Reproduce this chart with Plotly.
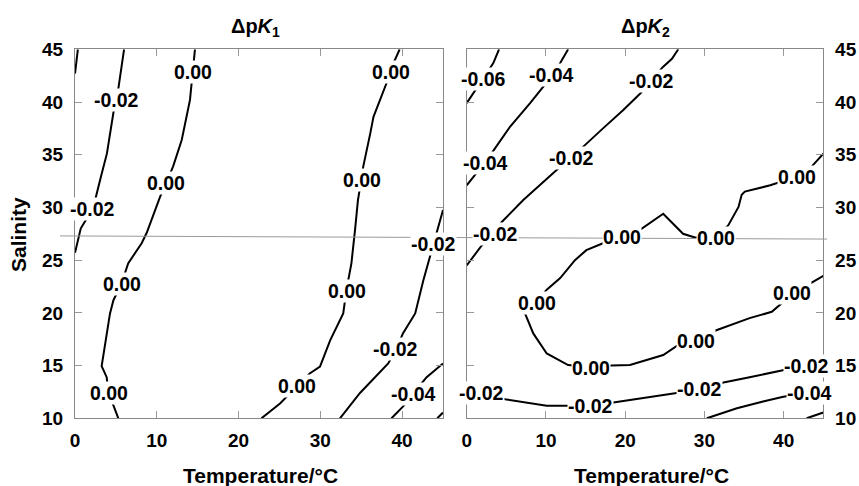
import plotly.graph_objects as go

# ---------------- data (Temperature °C, Salinity) ----------------
x_ticks = [0, 10, 20, 30, 40]
y_ticks = [10, 15, 20, 25, 30, 35, 40, 45]

# Delta pK1 contour lines
k1_a_t = [0.35, 0.0]
k1_a_s = [45, 42.7]
k1_b_t = [6.0, 5.5, 5.1, 4.7, 3.9, 3.2, 2.6, 2.2, 1.4, 0.7, 0.0]
k1_b_s = [45, 42.5, 40.2, 39.0, 35.1, 33.0, 31.3, 29.9, 28.9, 28.0, 25.7]
k1_c_t = [14.67, 14.35, 14.06, 13.05, 12.0, 11.2, 10.4, 8.77, 8.15, 6.5, 5.7, 4.7, 4.28, 3.26, 3.87, 4.1, 4.68, 5.3]
k1_c_s = [45, 42.8, 40.2, 36.4, 33.9, 32.4, 31.0, 27.6, 26.6, 24.7, 22.8, 21.2, 19.95, 14.95, 13.9, 12.45, 11.25, 10]
k1_d_t = [39.7, 38.5, 38.1, 36.5, 36.1, 35.25, 35.0, 34.6, 34.24, 33.8, 33.2, 32.8, 31.2, 29.96, 28.7, 27.1, 25.07, 22.8]
k1_d_s = [45, 42.9, 41.8, 38.6, 37.0, 33.9, 32.6, 30.7, 27.85, 24.7, 22.2, 19.95, 17.4, 14.9, 14.25, 13.0, 11.4, 10]
k1_e_t = [45.0, 44.2, 43.8, 43.4, 42.6, 41.6, 40.1, 39.3, 38.3, 34.85, 32.4]
k1_e_s = [29.75, 27.5, 26.4, 25.3, 23.1, 19.95, 18.05, 16.6, 15.2, 12.4, 10]
k1_f_t = [45, 43.0, 41.4, 40.1, 38.7]
k1_f_s = [15.2, 13.9, 12.4, 11.1, 10]
k1_g_t = [44.3, 45]
k1_g_s = [10, 10.55]

# Delta pK2 contour lines
k2_a_t = [4.08, 3.36, 2.1, 1.05, 0]
k2_a_s = [45, 43.7, 42.25, 41.1, 39.9]
k2_b_t = [12.8, 11.8, 10.7, 9.67, 8.0, 5.46, 3.57, 2.3, 1.05, 0]
k2_b_s = [45, 43.7, 42.55, 41.45, 39.9, 37.65, 35.6, 34.2, 33.1, 32.1]
k2_c_t = [26.7, 25.9, 24.8, 23.3, 21.9, 19.76, 17.2, 14.9, 13.25, 11.56, 9.46, 7.14, 4.4, 3.57, 1.9, 0]
k2_c_s = [45, 44.1, 43.35, 42.1, 40.8, 39.25, 37.5, 35.9, 34.75, 33.7, 32.3, 30.7, 28.6, 27.4, 26.4, 24.5]
k2_d_t = [45, 43.5, 41.6, 38.3, 35.1, 34.7, 34.3, 33.0, 31.3, 28.8, 27.3, 24.8, 22.1, 19.55, 17.2, 15.1,
          13.66, 11.8, 10.1, 8.8, 7.36, 8.4, 10.1, 12.8, 15.56, 18.3, 20.6, 24.8, 26.7, 28.9, 31.5, 35.7,
          38.5, 41.2, 43.7, 45]
k2_d_s = [35.1, 33.85, 32.9, 32.1, 31.5, 31.2, 30.05, 28.3, 27.15, 27.15, 27.5, 29.4, 28.0, 27.3, 26.6, 25.95,
          25.0, 23.3, 22.2, 21.05, 19.95, 18.05, 16.15, 15.05, 14.9, 15.0, 15.05, 16.0, 16.95, 17.4, 18.35, 19.5,
          20.1, 21.85, 22.95, 23.5]
k2_e_t = [0, 1.9, 4.83, 10.1, 12.6, 15.56, 18.5, 22.3, 26.5, 29.35, 32.4, 35.7, 39.9, 42.9, 45]
k2_e_s = [12.6, 12.4, 11.8, 11.2, 11.2, 11.2, 11.5, 11.9, 12.4, 12.75, 13.4, 13.9, 14.55, 14.9, 15.1]
k2_f_t = [30.3, 34.1, 37.4, 39.95, 43.1, 45]
k2_f_s = [10, 10.95, 11.6, 12.05, 12.4, 12.6]
k2_g_t = [42.9, 45]
k2_g_s = [10, 10.55]

# contour labels
k1_lab_t = [5.1, 2.15, 14.37, 11.1, 5.7, 4.18, 38.6, 35.15, 33.3, 27.2, 43.8, 39.2, 41.37]
k1_lab_s = [40.2, 29.85, 42.8, 32.35, 22.7, 12.44, 42.8, 32.6, 22.1, 13.06, 26.5, 16.55, 12.3]
k1_lab_txt = ["-0.02", "-0.02", "0.00", "0.00", "0.00", "0.00", "0.00", "0.00", "0.00", "0.00",
              "-0.02", "-0.02", "-0.04"]
k2_lab_t = [2.1, 10.72, 23.34, 2.4, 13.25, 41.74, 3.67, 19.66, 31.43, 8.83, 41.1, 28.9, 15.66,
            42.9, 29.33, 15.56, 1.89, 43.2]
k2_lab_s = [42.2, 42.6, 42.0, 34.26, 34.7, 32.84, 27.46, 27.15, 27.07, 20.98, 21.9, 17.34, 14.8,
            14.95, 12.75, 11.18, 12.44, 12.44]
k2_lab_txt = ["-0.06", "-0.04", "-0.02", "-0.04", "-0.02", "0.00", "-0.02", "0.00", "0.00", "0.00",
              "0.00", "0.00", "0.00", "-0.02", "-0.02", "-0.02", "-0.02", "-0.04"]

# ---------------- figure ----------------
W, H = 859, 486
FONT = "Liberation Sans, Arial, Helvetica, sans-serif"
fig = go.Figure()

k1_lines = [(k1_a_t, k1_a_s), (k1_b_t, k1_b_s), (k1_c_t, k1_c_s), (k1_d_t, k1_d_s),
            (k1_e_t, k1_e_s), (k1_f_t, k1_f_s), (k1_g_t, k1_g_s)]
k2_lines = [(k2_a_t, k2_a_s), (k2_b_t, k2_b_s), (k2_c_t, k2_c_s), (k2_d_t, k2_d_s),
            (k2_e_t, k2_e_s), (k2_f_t, k2_f_s), (k2_g_t, k2_g_s)]

for t, s in k1_lines:
    fig.add_trace(go.Scatter(x=t, y=s, mode="lines", line=dict(color="black", width=2),
                             xaxis="x", yaxis="y", showlegend=False, hoverinfo="skip"))
for t, s in k2_lines:
    fig.add_trace(go.Scatter(x=t, y=s, mode="lines", line=dict(color="black", width=2),
                             xaxis="x2", yaxis="y2", showlegend=False, hoverinfo="skip"))

# horizontal gray rule across both panels
fig.add_shape(type="line", xref="paper", yref="y", x0=60 / W, x1=827 / W, y0=27.3, y1=27.0,
              line=dict(color="#9a9a9a", width=1), layer="above")

lab_font = dict(family=FONT, size=19.5, color="black", weight="bold")
for t, s, txt in zip(k1_lab_t, k1_lab_s, k1_lab_txt):
    fig.add_annotation(x=t, y=s, xref="x", yref="y", text=txt, showarrow=False,
                       bgcolor="white", borderpad=0, font=lab_font)
for t, s, txt in zip(k2_lab_t, k2_lab_s, k2_lab_txt):
    fig.add_annotation(x=t, y=s, xref="x2", yref="y2", text=txt, showarrow=False,
                       bgcolor="white", borderpad=0, font=lab_font)

title_font = dict(family=FONT, size=20, color="black", weight="bold")
axis_title_font = dict(family=FONT, size=21, color="black", weight="bold")
ann_common = dict(xref="paper", yref="paper", showarrow=False, xanchor="center", yanchor="middle")
fig.add_annotation(text="\u0394p<i>K</i><sub>1</sub>", x=255 / W, y=1 - 27 / H, font=title_font, **ann_common)
fig.add_annotation(text="\u0394p<i>K</i><sub>2</sub>", x=645 / W, y=1 - 27 / H, font=title_font, **ann_common)
fig.add_annotation(text="Salinity", x=18 / W, y=1 - 235 / H, textangle=-90, font=axis_title_font, **ann_common)
fig.add_annotation(text="Temperature/\u00b0C", x=260 / W, y=1 - 475 / H, font=axis_title_font, **ann_common)
fig.add_annotation(text="Temperature/\u00b0C", x=651 / W, y=1 - 475 / H, font=axis_title_font, **ann_common)

tick_font = dict(family=FONT, size=19, color="black", weight="bold")
ax_common = dict(showgrid=False, zeroline=False, showline=True, linecolor="#888888", linewidth=1,
                 mirror="ticks", ticks="inside", ticklen=7, tickcolor="#999999", tickwidth=1,
                 tickfont=tick_font, automargin=False)

y_dom = [1 - 418.3 / H, 1 - 49.3 / H]
fig.update_layout(
    width=W, height=H, margin=dict(l=0, r=0, t=0, b=0, autoexpand=False),
    paper_bgcolor="white", plot_bgcolor="white",
    xaxis=dict(domain=[75 / W, 443 / W], range=[0, 45], tickvals=x_ticks, anchor="y",
               ticklabelstandoff=5, **ax_common),
    yaxis=dict(domain=y_dom, range=[10, 45], tickvals=y_ticks, anchor="x",
               ticklabelstandoff=7, **ax_common),
    xaxis2=dict(domain=[466.7 / W, 823.3 / W], range=[0, 45], tickvals=x_ticks, anchor="y2",
                ticklabelstandoff=5, **ax_common),
    yaxis2=dict(domain=y_dom, range=[10, 45], tickvals=y_ticks, anchor="x2", side="right",
                ticklabelstandoff=7, **ax_common),
)

fig.write_html("out.html")
